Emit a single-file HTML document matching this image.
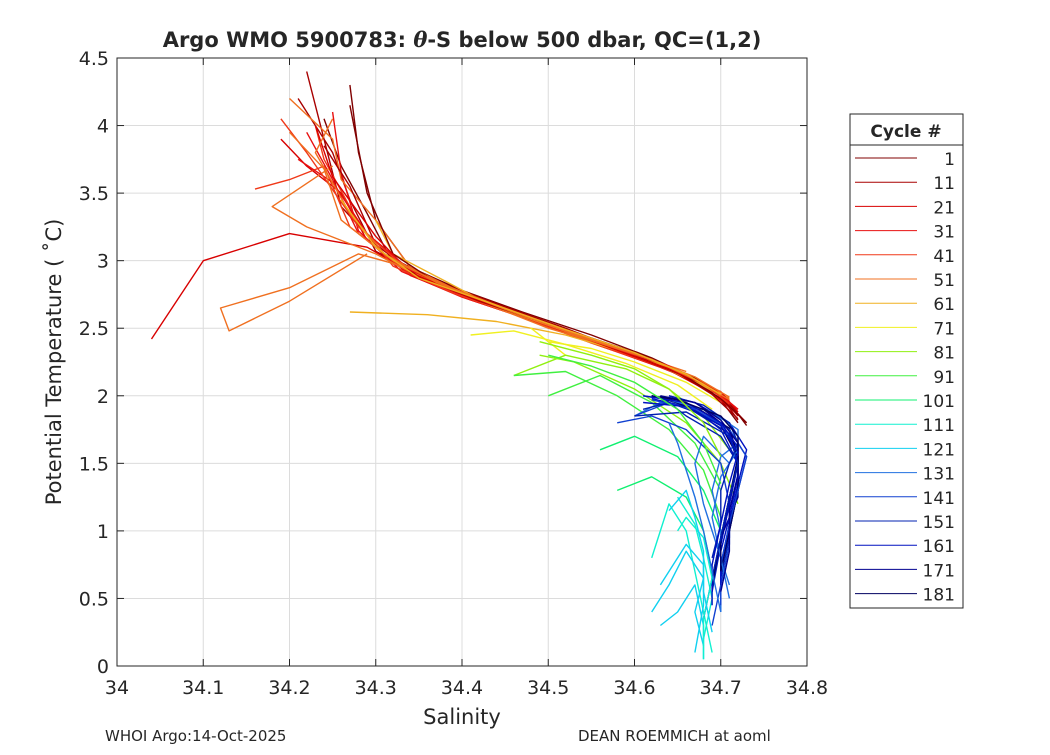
<!DOCTYPE html>
<html><head><meta charset="utf-8">
<style>
body{margin:0;background:#fff;}
svg text{font-family:"DejaVu Sans","Liberation Sans",sans-serif;fill:#262626;}
</style></head>
<body>
<svg id="chart" width="1050" height="750" viewBox="0 0 1050 750" xmlns="http://www.w3.org/2000/svg">
<rect x="0" y="0" width="1050" height="750" fill="#fff"/>
<rect x="117" y="58" width="690" height="608" fill="#fff" stroke="none"/>
<g id="grid"></g>
<g id="series"></g>
<rect x="117" y="58" width="690" height="608" fill="none" stroke="#262626" stroke-width="1"/>
<g id="axes"></g>
<text x="462" y="47" font-size="21" font-weight="bold" text-anchor="middle">Argo WMO 5900783: <tspan font-style="italic" font-family="DejaVu Serif">θ</tspan>-S below 500 dbar,  QC=(1,2)</text>
<text x="462" y="724" font-size="21" text-anchor="middle">Salinity</text>
<text transform="translate(61,362) rotate(-90)" font-size="21" text-anchor="middle">Potential Temperature ( ˚C)</text>
<text x="105" y="741" font-size="15">WHOI Argo:14-Oct-2025</text>
<text x="578" y="741" font-size="15">DEAN ROEMMICH at aoml</text>
<g id="legend">
<rect x="850" y="114" width="113" height="494" fill="#fff" stroke="#262626" stroke-width="1"/>
<line x1="850" y1="145" x2="963" y2="145" stroke="#262626"/>
<text x="906" y="137" font-size="17" font-weight="bold" text-anchor="middle">Cycle #</text>
</g>
</svg>
<script>
const xTicks=[34,34.1,34.2,34.3,34.4,34.5,34.6,34.7,34.8];
const yTicks=[0,0.5,1,1.5,2,2.5,3,3.5,4,4.5];
const legendCycles=[1,11,21,31,41,51,61,71,81,91,101,111,121,131,141,151,161,171,181];
const legendColors=["#800000","#a80000","#d80000","#e81010","#f03818","#f07020","#f0b020","#f0f020","#90f010","#40f040","#10f070","#10f0d0","#10d0f0","#2070e0","#1040d0","#0020b0","#0010c0","#000090","#000060"];
const profColor=[0,0,1,1,2,2,3,3,4,4,5,5,5,6,6,7,7,8,8,9,9,10,10,11,11,12,12,13,13,14,14,15,15,16,16,17,17,18,18,
 0,1,2,3,4,5,5,6,13,14,15,16,17,18,15,16,12,11,12,13,9,8];
const profS=[
[34.73,34.71,34.68,34.62,34.55,34.47,34.40,34.34,34.30,34.28,34.27],
[34.72,34.70,34.67,34.61,34.53,34.45,34.38,34.32,34.29,34.26,34.24],
[34.73,34.70,34.66,34.60,34.52,34.44,34.37,34.31,34.26,34.24,34.22],
[34.72,34.70,34.65,34.59,34.51,34.43,34.36,34.30,34.27,34.25,34.21],
[34.72,34.70,34.65,34.58,34.50,34.42,34.35,34.29,34.20,34.10,34.04],
[34.72,34.69,34.64,34.57,34.49,34.41,34.34,34.29,34.26,34.22,34.19],
[34.72,34.69,34.64,34.57,34.49,34.41,34.34,34.28,34.25,34.22],
[34.71,34.69,34.63,34.56,34.48,34.40,34.33,34.28,34.26,34.25],
[34.71,34.68,34.63,34.56,34.48,34.40,34.33,34.27,34.24,34.20,34.16],
[34.71,34.68,34.62,34.55,34.47,34.39,34.32,34.28,34.24,34.23],
[34.71,34.67,34.62,34.55,34.47,34.39,34.32,34.28,34.20,34.12,34.13,34.20,34.29],
[34.66,34.58,34.50,34.42,34.34,34.30,34.26,34.25,34.20],
[34.70,34.66,34.60,34.52,34.44,34.36,34.30,34.22,34.18,34.25],
[34.70,34.66,34.60,34.52,34.44,34.36,34.27],
[34.70,34.65,34.59,34.51,34.43,34.38,34.32,34.30],
[34.70,34.66,34.60,34.55,34.50,34.48,34.52],
[34.69,34.65,34.59,34.52,34.46,34.41],
[34.71,34.68,34.64,34.59,34.52,34.46],
[34.72,34.70,34.66,34.60,34.53,34.49],
[34.70,34.67,34.62,34.56,34.50],
[34.70,34.68,34.64,34.58,34.52,34.46],
[34.70,34.68,34.65,34.60,34.56],
[34.69,34.68,34.66,34.62,34.58],
[34.69,34.68,34.67,34.66,34.64,34.62],
[34.68,34.69,34.68,34.67,34.65],
[34.68,34.68,34.67,34.65,34.63],
[34.67,34.68,34.68,34.66,34.63],
[34.71,34.70,34.69,34.68,34.67,34.68,34.71,34.72,34.70,34.65,34.62],
[34.70,34.70,34.70,34.69,34.70,34.72,34.71,34.68,34.63,34.60],
[34.70,34.71,34.72,34.73,34.71,34.68,34.64,34.60],
[34.69,34.70,34.71,34.71,34.70,34.66,34.62,34.58],
[34.69,34.70,34.71,34.72,34.70,34.66,34.63],
[34.70,34.71,34.71,34.72,34.71,34.67,34.64,34.61],
[34.70,34.71,34.72,34.73,34.71,34.67,34.64],
[34.69,34.70,34.71,34.72,34.70,34.67,34.62],
[34.70,34.71,34.72,34.72,34.70,34.66,34.62],
[34.69,34.70,34.72,34.72,34.71,34.68,34.63],
[34.70,34.71,34.72,34.72,34.70,34.66,34.63],
[34.69,34.70,34.71,34.72,34.71,34.67,34.62],
[34.73,34.70,34.66,34.60,34.52,34.44,34.37,34.32,34.29,34.27],
[34.72,34.69,34.65,34.58,34.50,34.42,34.35,34.30,34.27,34.24],
[34.72,34.70,34.64,34.57,34.49,34.41,34.34,34.30,34.25,34.23],
[34.72,34.69,34.64,34.56,34.48,34.40,34.34,34.29,34.25,34.21],
[34.71,34.68,34.63,34.55,34.47,34.39,34.33,34.28,34.22,34.19],
[34.71,34.67,34.62,34.54,34.46,34.38,34.32,34.26,34.24,34.20],
[34.71,34.67,34.61,34.53,34.45,34.37,34.31,34.27,34.23,34.25],
[34.70,34.66,34.60,34.52,34.44,34.35,34.30,34.26],
[34.71,34.70,34.69,34.70,34.72,34.72,34.69,34.64,34.61],
[34.70,34.70,34.71,34.72,34.73,34.71,34.67,34.62],
[34.69,34.70,34.70,34.71,34.72,34.71,34.68,34.64],
[34.70,34.70,34.71,34.72,34.72,34.70,34.66,34.61],
[34.70,34.71,34.71,34.72,34.72,34.70,34.67,34.63],
[34.70,34.70,34.71,34.72,34.72,34.70,34.65,34.62],
[34.68,34.69,34.70,34.71,34.72,34.71,34.66,34.60],
[34.69,34.69,34.70,34.71,34.72,34.70,34.66,34.61],
[34.68,34.67,34.68,34.66,34.64,34.62],
[34.68,34.68,34.69,34.68,34.66,34.65],
[34.69,34.68,34.68,34.67,34.66,34.64],
[34.70,34.69,34.68,34.67,34.66,34.65,34.64],
[34.70,34.68,34.65,34.60,34.55,34.50],
[34.70,34.68,34.64,34.60,34.55,34.49]
];
const profT=[
[1.78,1.95,2.10,2.28,2.45,2.62,2.78,2.95,3.30,3.80,4.30],
[1.80,1.97,2.12,2.30,2.47,2.64,2.80,2.98,3.35,3.70,4.05],
[1.80,2.00,2.15,2.30,2.50,2.68,2.85,3.05,3.40,3.90,4.40],
[1.82,2.00,2.16,2.32,2.51,2.69,2.87,3.07,3.45,3.80,4.20],
[1.85,2.00,2.18,2.33,2.52,2.70,2.88,3.10,3.20,3.00,2.42],
[1.86,2.02,2.19,2.35,2.54,2.71,2.89,3.15,3.50,3.70,3.90],
[1.90,2.05,2.20,2.36,2.55,2.72,2.90,3.20,3.60,3.95],
[1.92,2.06,2.21,2.37,2.56,2.73,2.92,3.22,3.65,4.10],
[1.95,2.08,2.22,2.38,2.57,2.75,2.95,3.25,3.70,3.60,3.53],
[1.96,2.09,2.24,2.39,2.58,2.76,2.96,3.28,3.75,4.00],
[1.98,2.10,2.25,2.40,2.60,2.78,2.98,3.05,2.80,2.65,2.48,2.70,3.05],
[2.18,2.35,2.50,2.70,2.95,3.30,3.60,3.90,4.20],
[2.00,2.15,2.30,2.48,2.66,2.85,3.05,3.25,3.40,3.70],
[2.00,2.15,2.30,2.45,2.55,2.60,2.62],
[2.02,2.18,2.33,2.50,2.68,2.85,3.05,3.30],
[1.95,2.10,2.25,2.35,2.40,2.50,2.30],
[1.90,2.08,2.24,2.38,2.48,2.45],
[1.60,1.85,2.05,2.20,2.30,2.15],
[1.20,1.50,1.80,2.05,2.25,2.30],
[1.30,1.65,1.95,2.15,2.00],
[1.10,1.45,1.75,2.00,2.18,2.15],
[1.00,1.30,1.55,1.70,1.60],
[0.70,1.00,1.25,1.40,1.30],
[0.10,0.40,0.70,1.00,1.20,0.80],
[0.20,0.50,0.80,1.05,1.25],
[0.05,0.30,0.60,0.40,0.30],
[0.10,0.45,0.75,0.90,0.60],
[0.60,0.80,1.00,1.20,1.50,1.70,1.50,1.60,1.80,1.95,2.00],
[0.40,0.70,1.00,1.30,1.55,1.65,1.80,1.90,1.95,1.85],
[0.70,1.00,1.30,1.55,1.75,1.90,1.95,1.85],
[0.30,0.60,0.90,1.20,1.50,1.75,1.85,1.80],
[0.55,0.90,1.20,1.50,1.70,1.85,2.00],
[0.65,0.95,1.25,1.50,1.72,1.88,1.95,1.90],
[0.75,1.05,1.35,1.60,1.80,1.95,2.00],
[0.60,0.90,1.20,1.50,1.75,1.90,1.98],
[0.70,1.00,1.30,1.55,1.78,1.93,2.00],
[0.65,0.95,1.25,1.55,1.75,1.90,1.98],
[0.70,1.00,1.30,1.55,1.78,1.92,2.00],
[0.60,0.95,1.25,1.55,1.76,1.92,2.00],
[1.80,1.98,2.14,2.30,2.49,2.66,2.84,3.05,3.50,4.15],
[1.83,2.01,2.17,2.34,2.53,2.70,2.88,3.12,3.55,3.85],
[1.88,2.03,2.20,2.36,2.55,2.73,2.91,3.18,3.62,4.00],
[1.90,2.06,2.22,2.39,2.58,2.76,2.93,3.20,3.58,3.75],
[1.94,2.09,2.24,2.41,2.60,2.79,2.97,3.25,3.80,4.05],
[1.97,2.12,2.27,2.43,2.62,2.82,3.00,3.30,3.68,3.95],
[1.99,2.14,2.29,2.46,2.64,2.84,3.05,3.35,3.80,4.05],
[2.01,2.16,2.32,2.49,2.67,2.87,3.10,3.45],
[0.50,0.80,1.10,1.40,1.60,1.75,1.88,1.97,2.00],
[0.45,0.75,1.05,1.30,1.55,1.75,1.90,1.97],
[0.80,1.05,1.30,1.50,1.65,1.80,1.93,2.00],
[0.60,0.85,1.10,1.40,1.62,1.80,1.95,2.00],
[0.55,0.85,1.15,1.42,1.65,1.82,1.95,2.00],
[0.70,0.95,1.25,1.50,1.70,1.85,1.97,2.00],
[0.35,0.65,0.95,1.25,1.50,1.70,1.88,1.85],
[0.45,0.75,1.05,1.35,1.58,1.78,1.92,1.95],
[0.15,0.40,0.65,0.85,0.60,0.40],
[0.05,0.35,0.65,0.95,1.10,1.00],
[0.25,0.55,0.85,1.10,1.30,1.15],
[0.40,0.70,1.00,1.25,1.45,1.65,1.80],
[1.35,1.65,1.90,2.10,2.22,2.30],
[1.55,1.80,2.05,2.20,2.30,2.40]
];
const NS="http://www.w3.org/2000/svg";
const X0=117,X1=807,Y0=666,Y1=58;
function sx(s){return X0+(s-34)/(0.8)*(X1-X0);}
function sy(t){return Y0-(t/4.5)*(Y0-Y1);}
function mk(tag,attrs,parent){const e=document.createElementNS(NS,tag);for(const k in attrs)e.setAttribute(k,attrs[k]);parent.appendChild(e);return e;}
const grid=document.getElementById('grid'),axes=document.getElementById('axes'),ser=document.getElementById('series'),leg=document.getElementById('legend');
xTicks.forEach(v=>{const x=sx(v);
 const g=mk('line',{x1:x,y1:Y1,x2:x,y2:Y0,stroke:'#dcdcdc','stroke-width':1},grid);
 
 
 mk('line',{x1:x,y1:Y0,x2:x,y2:Y0-7,stroke:'#262626'},axes);
 mk('line',{x1:x,y1:Y1,x2:x,y2:Y1+7,stroke:'#262626'},axes);
 const t=mk('text',{x:x,y:Y0+28,'font-size':19,'text-anchor':'middle'},axes);t.textContent=String(v);
 
 
});
yTicks.forEach(v=>{const y=sy(v);
 const g=mk('line',{x1:X0,y1:y,x2:X1,y2:y,stroke:'#dcdcdc','stroke-width':1},grid);
 
 
 mk('line',{x1:X0,y1:y,x2:X0+7,y2:y,stroke:'#262626'},axes);
 mk('line',{x1:X1,y1:y,x2:X1-7,y2:y,stroke:'#262626'},axes);
 const t=mk('text',{x:X0-8,y:y+7,'font-size':19,'text-anchor':'end'},axes);t.textContent=String(v);
 
 
});
profS.forEach((S,i)=>{
 const pts=S.map((s,j)=>sx(s).toFixed(1)+','+sy(profT[i][j]).toFixed(1)).join(' ');
 const p=mk('polyline',{points:pts,fill:'none',stroke:legendColors[profColor[i]],'stroke-width':1.4,'stroke-linejoin':'round'},ser);
 
 
});
legendCycles.forEach((c,i)=>{const y=158+i*24.2;
 const l=mk('line',{x1:855,y1:y,x2:917,y2:y,stroke:legendColors[i],'stroke-width':1},leg);
 
 
 const t=mk('text',{x:955,y:y+7,'font-size':17,'text-anchor':'end'},leg);t.textContent=String(c);
 
 
});
</script>
</body></html>
